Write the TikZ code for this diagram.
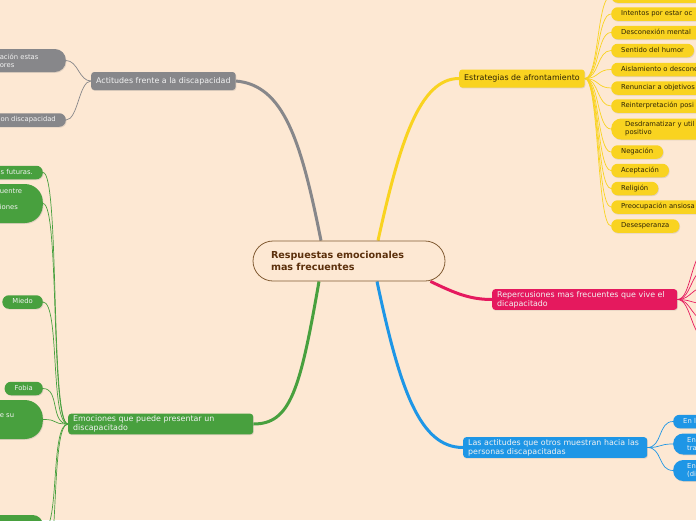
\documentclass[tikz,border=0pt]{standalone}
\usepackage{fontspec}
\setmainfont{DejaVu Sans}
\usetikzlibrary{shadows}

\definecolor{fondo}{RGB}{253,232,211}
\definecolor{gris}{RGB}{135,135,138}
\definecolor{amarillo}{RGB}{249,211,32}
\definecolor{rojo}{RGB}{229,25,94}
\definecolor{azul}{RGB}{30,150,230}
\definecolor{verde}{RGB}{72,160,62}
\definecolor{cafe}{RGB}{130,92,52}
\definecolor{cafetexto}{RGB}{92,48,12}
\definecolor{tinta}{RGB}{45,35,5}
\definecolor{claro}{RGB}{242,242,242}

\pgfdeclarelayer{capafondo}
\pgfsetlayers{capafondo,main}

\begin{document}
\begin{tikzpicture}[
		x=1pt, y=-1pt,                          % một đơn vị = một điểm ảnh
		sombra/.style={drop shadow={opacity=0.22, shadow xshift=0.7pt, shadow yshift=-0.9pt}},
		nucleo/.style={draw=cafe, line width=0.8pt, fill=fondo, rounded corners=20pt, text width=156pt, inner xsep=18pt, minimum height=40pt, align=left, text=cafetexto, font=\fontsize{9.6}{12}\selectfont\bfseries},
		tema/.style 2 args={fill=#1, text=#2, rounded corners=3pt, inner xsep=5pt, inner ysep=2pt, minimum height=18pt, anchor=west, align=left, font=\fontsize{7.9}{9}\selectfont, sombra},
		hoja/.style 2 args={fill=#1, text=#2, rounded corners=6.5pt, inner xsep=10pt, inner ysep=0pt, minimum height=13.5pt, text height=4.9pt, text depth=1.4pt, font=\fontsize{6.8}{8}\selectfont, sombra},
		hojaalta/.style 2 args={fill=#1, text=#2, rounded corners=10pt, inner xsep=14pt, inner ysep=1pt, minimum height=21pt, align=left, font=\fontsize{6.8}{8}\selectfont, sombra},
		rama/.style={draw=#1, line width=3pt},   % nhánh chính, dày
		enlace/.style={draw=#1, line width=0.7pt}
		]
		\useasboundingbox (0,0) rectangle (696,520);
		
		\node[nucleo] (hub) at (349,261) {Respuestas emocionales\\mas frecuentes};
		
		% nhánh xám
		\node[tema={gris}{claro}] (actitudes) at (91,81) {Actitudes frente a la discapacidad};
		\node[hojaalta={gris}{claro}, anchor=east, text width=44pt, inner xsep=22pt, minimum height=23pt, rounded corners=11pt] (valoracion) at (66,60.5) {ación estas\\ores};
		\node[hoja={gris}{claro}, anchor=east] (personas) at (66,120) {on discapacidad};
		
		% nhánh vàng
		\node[tema={amarillo}{tinta}] (estrategias) at (459,78.5) {Estrategias de afrontamiento};
		\begin{scope}[every node/.append style={anchor=west}]
			\node[hoja={amarillo}{tinta}, text width=80pt, align=left] (arriba) at (611,-4) {};
			\node[hoja={amarillo}{tinta}, text width=80pt, align=left] (intentos) at (611,14) {Intentos por estar oc};
			\node[hoja={amarillo}{tinta}, text width=80pt, align=left] (desconexion) at (611,32.5) {Desconexión mental};
			\node[hoja={amarillo}{tinta}] (humor) at (611,50.5) {Sentido del humor};
			\node[hoja={amarillo}{tinta}, text width=80pt, align=left] (aislamiento) at (611,69.5) {Aislamiento o descone};
			\node[hoja={amarillo}{tinta}, text width=80pt, align=left] (renunciar) at (611,88) {Renunciar a objetivos};
			\node[hoja={amarillo}{tinta}, text width=80pt, align=left] (reinterpretacion) at (611,106) {Reinterpretación posi};
			\node[hojaalta={amarillo}{tinta}, text width=80pt] (desdramatizar) at (611,129) {Desdramatizar y util\\positivo};
			\node[hoja={amarillo}{tinta}] (negacion) at (611,152) {Negación};
			\node[hoja={amarillo}{tinta}] (aceptacion) at (611,170.5) {Aceptación};
			\node[hoja={amarillo}{tinta}] (religion) at (611,188.5) {Religión};
			\node[hoja={amarillo}{tinta}, text width=80pt, align=left] (preocupacion) at (611,207) {Preocupación ansiosa};
			\node[hoja={amarillo}{tinta}] (desesperanza) at (611,226) {Desesperanza};
		\end{scope}
		
		% nhánh đỏ
		\node[tema={rojo}{claro}, text width=175pt] (repercusiones) at (492,299.5) {Repercusiones mas frecuentes que vive el\\dicapacitado};
		\foreach \i/\h in {1/246,2/266,3/286,4/304,5/322,6/342}
			\coordinate (r\i) at (712,\h);
		
		% nhánh xanh dương
		\node[tema={azul}{claro}, text width=174pt] (otros) at (463,447.5) {Las actitudes que otros muestran hacia las\\personas discapacitadas};
		\node[hoja={azul}{claro}, anchor=west, text width=40pt, align=left] (familia) at (673,421.5) {En l};
		\node[hojaalta={azul}{claro}, anchor=west, text width=40pt] (trabajo) at (673,444) {En\\tra};
		\node[hojaalta={azul}{claro}, anchor=west, text width=40pt] (sociedad) at (673,470.5) {En\\(di};
		
		% nhánh xanh lá
		\node[tema={verde}{claro}, text width=175pt] (emociones) at (68,424) {Emociones que puede presentar un\\discapacitado};
		\node[hoja={verde}{claro}, anchor=east] (futuras) at (43,172.5) {s futuras.};
		\node[hojaalta={verde}{claro}, anchor=east, text width=24pt, inner xsep=19pt, minimum height=39pt, rounded corners=18pt] (encuentre) at (43,203.5) {uentre\\\mbox{}\\iones\\\mbox{}};
		\node[hoja={verde}{claro}, anchor=east] (miedo) at (43,302) {Miedo};
		\node[hoja={verde}{claro}, anchor=east] (fobia) at (43,388.5) {Fobia};
		\node[hojaalta={verde}{claro}, anchor=east, text width=16pt, inner xsep=27pt, minimum height=39pt, rounded corners=18pt] (su) at (43,419.5) {e su\\\mbox{}};
		\node[hojaalta={verde}{claro}, anchor=east, text width=30pt, minimum height=30pt] (ultima) at (43,530) {};
		\coordinate (verdeabajo) at (43,575);
		
		\begin{pgfonlayer}{capafondo}
			\clip (0,0) rectangle (696,520);
			\fill[fondo] (0,0) rectangle (696,520);
			
			\draw[rama=gris] ([xshift=-28pt]hub.north) .. controls +(-20,-100) and +(48,4) .. (actitudes.east);
			\draw[rama=amarillo] ([xshift=29pt]hub.north) .. controls +(22,-100) and +(-39,0) .. (estrategias.west);
			\draw[rama=rojo] ([xshift=-15pt]hub.south east) .. controls +(25,12) and +(-22,0) .. (repercusiones.west);
			\draw[rama=azul] ([xshift=28pt]hub.south) .. controls +(23,109) and +(-43,0) .. (otros.west);
			\draw[rama=verde] ([xshift=-30pt]hub.south) .. controls +(-19,109) and +(37,0) .. (emociones.east);
			
			\foreach \h in {valoracion,personas}
				\draw[enlace=gris] (actitudes.west) .. controls +(-12,0) and +(12,0) .. (\h.east);
			\foreach \h in {arriba,intentos,desconexion,humor,aislamiento,renunciar,reinterpretacion,desdramatizar,negacion,aceptacion,religion,preocupacion,desesperanza}
				\draw[enlace=amarillo] (estrategias.east) .. controls +(14,0) and +(-14,0) .. (\h.west);
			\foreach \i in {1,...,6}
				\draw[enlace=rojo] (repercusiones.east) .. controls +(15,0) and +(-22,0) .. (r\i);
			\foreach \h in {familia,trabajo,sociedad}
				\draw[enlace=azul] (otros.east) .. controls +(15,0) and +(-15,0) .. (\h.west);
			\foreach \h in {futuras.east,encuentre.east,miedo.east,fobia.east,su.east,ultima.east,verdeabajo}
				\draw[enlace=verde] (emociones.west) .. controls +(-18,0) and +(17,0) .. (\h);
		\end{pgfonlayer}
	\end{tikzpicture}
\end{document}
